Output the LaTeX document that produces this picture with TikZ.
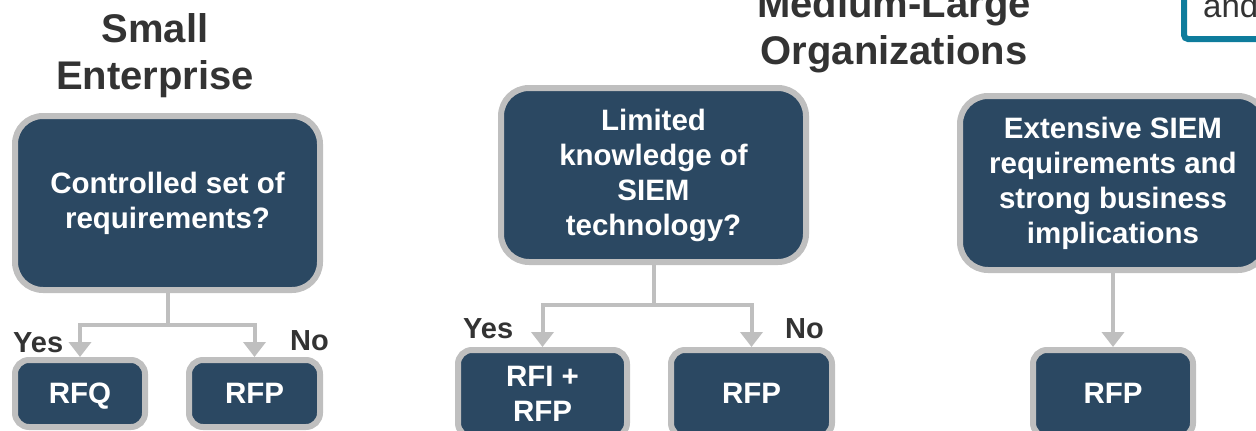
\documentclass[tikz,border=0pt]{standalone}
\usepackage{fontspec}
\setmainfont{Liberation Sans}
\usetikzlibrary{arrows.meta}
\definecolor{boxfill}{HTML}{2B4862}
\definecolor{boxline}{HTML}{BFBFBF}
\definecolor{titlegray}{HTML}{333333}
\definecolor{tealline}{HTML}{0E7C9C}
\tikzset{
  bigbox/.style={draw=boxline, fill=boxfill, line width=6pt, rounded corners=28pt,
    minimum width=305pt, minimum height=174pt, text=white, align=center,
    font=\bfseries\fontsize{29.5}{35}\selectfont, inner sep=0pt},
  smallbox/.style={draw=boxline, fill=boxfill, line width=6pt, rounded corners=14pt,
    minimum height=67pt, text=white, align=center,
    font=\bfseries\fontsize{29.5}{35}\selectfont, inner sep=0pt},
  medbox/.style={smallbox, minimum height=87pt},
  conn/.style={draw=boxline, line width=4pt, -{Triangle[width=22pt,length=15pt]}},
  title/.style={text=titlegray, align=center, font=\bfseries\fontsize{40}{47}\selectfont, inner sep=0pt},
  answer/.style={text=titlegray, font=\bfseries\fontsize{29}{34}\selectfont, inner sep=0pt, anchor=base west}
}
\begin{document}
\begin{tikzpicture}[x=1pt,y=-1pt]
\useasboundingbox (0,0) rectangle (1256,431);
\clip (0,0) rectangle (1256,431);
% titles
\node[title] (t1) at (155,56) {Small\\Enterprise};
\node[title] (t2) at (894,31) {Medium-Large\\Organizations};
% teal box top right
\draw[tealline, line width=6pt, rounded corners=4pt] (1184,-20) -- (1184,39) -- (1290,39);
\node[text=titlegray, font=\fontsize{33}{38}\selectfont, inner sep=0pt, anchor=base west] (andtxt) at (1203,17) {and};
% small enterprise
\node[bigbox] (b1) at (167.5,203) {Controlled set of\\requirements?};
\node[smallbox, minimum width=130pt, text depth=0pt] (rfq) at (80,393.5) {RFQ};
\node[smallbox, minimum width=131pt] (rfp1) at (254.5,393.5) {RFP};
\draw[conn] (b1.south) -- ++(0,32) -| (rfq.north);
\draw[conn] (b1.south) -- ++(0,32) -| (rfp1.north);
\node[answer] (yes1) at (13,352) {Yes};
\node[answer] (no1) at (290,350) {No};
% medium-large
\node[bigbox] (b2) at (653.5,175) {Limited\\knowledge of\\SIEM\\technology?};
\node[medbox, minimum width=169pt] (rfi) at (542.5,393.5) {RFI +\\RFP};
\node[medbox, minimum width=161pt] (rfp2) at (751.5,393.5) {RFP};
\draw[conn] (b2.south) -- ++(0,40) -| (rfi.north);
\draw[conn] (b2.south) -- ++(0,40) -| (rfp2.north);
\node[answer] (yes2) at (463,338) {Yes};
\node[answer] (no2) at (785,338) {No};
\node[bigbox, minimum width=306pt] (b3) at (1113,183) {Extensive SIEM\\requirements and\\strong business\\implications};
\node[medbox, minimum width=160pt] (rfp3) at (1113,393.5) {RFP};
\draw[conn] (b3.south) -- (rfp3.north);
\end{tikzpicture}
\end{document}
